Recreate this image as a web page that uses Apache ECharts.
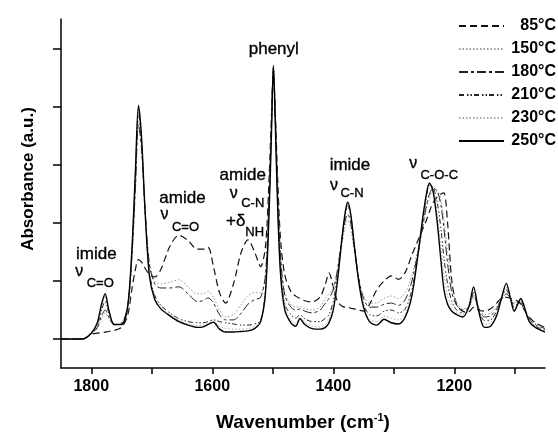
<!DOCTYPE html>
<html>
<head>
<meta charset="utf-8">
<script src="https://cdn.jsdelivr.net/npm/echarts@6/dist/echarts.min.js"></script>
<style>html,body{margin:0;padding:0;background:#fff}#c{width:558px;height:437px}</style>
</head>
<body>
<div id="c"></div>
<script>
const FONT = '"Liberation Sans", Arial, sans-serif';

const wavenumbers = [
 1850,1815,1800,1790,1783,1777,1771,1762,1750,1740,
 1733,1727,1722,1717,1711,1704,1695,1685,1670,1655,
 1640,1625,1615,1607,1598,1588,1578,1565,1552,1541,
 1530,1520,1512,1506,1502,1499,1496,1492,1487,1480,
 1470,1462,1455,1447,1435,1422,1413,1407,1400,1393,
 1386,1380,1376,1371,1365,1358,1350,1340,1328,1316,
 1304,1292,1281,1270,1260,1252,1246,1241,1235,1228,
 1222,1217,1211,1204,1196,1186,1176,1168,1160,1150,
 1140,1130,1122,1114,1107,1101,1095,1090,1084,1076,
 1066,1050];

const temps = ['85°C','150°C','180°C','210°C','230°C','250°C'];

const abs85 = [
 0,0,0.08,0.1,0.11,0.12,0.13,0.15,0.2,0.4,
 0.85,1.2,1.37,1.33,1.22,1.12,1.07,1.2,1.6,1.79,
 1.7,1.55,1.55,1.58,1.25,0.8,0.62,0.95,1.5,1.71,
 1.5,1.25,1.6,2.8,3.9,4.65,4.0,2.8,1.7,1.1,
 0.82,0.74,0.7,0.66,0.64,0.72,0.95,1.14,0.9,0.65,
 0.57,0.55,0.55,0.53,0.52,0.5,0.48,0.6,0.85,1.0,
 1.09,1.03,1.15,1.45,1.7,1.9,2.05,2.2,2.35,2.45,
 2.5,2.52,2.0,1.0,0.6,0.48,0.47,0.55,0.5,0.48,
 0.52,0.62,0.7,0.72,0.7,0.68,0.65,0.6,0.5,0.38,
 0.28,0.2];

const abs150 = [
 0,0,0.09,0.18,0.35,0.45,0.35,0.24,0.27,0.55,
 1.35,2.55,3.75,3.35,2.25,1.35,1.0,0.95,0.98,1.02,
 0.9,0.78,0.78,0.82,0.72,0.5,0.38,0.42,0.6,0.75,
 0.8,0.8,1.15,2.5,3.75,4.68,3.9,2.6,1.45,0.8,
 0.6,0.55,0.56,0.52,0.5,0.55,0.7,0.78,0.88,1.15,
 1.6,1.95,2.05,1.9,1.5,1.05,0.75,0.62,0.62,0.7,
 0.74,0.7,0.8,1.1,1.55,1.95,2.25,2.42,2.55,2.55,
 2.4,2.05,1.5,0.9,0.62,0.52,0.55,0.7,0.55,0.42,
 0.45,0.56,0.7,0.77,0.71,0.63,0.63,0.6,0.5,0.36,
 0.26,0.19];

const abs180 = [
 0,0,0.09,0.2,0.4,0.5,0.38,0.25,0.27,0.55,
 1.4,2.6,3.7,3.3,2.2,1.3,0.95,0.88,0.88,0.9,
 0.78,0.65,0.66,0.71,0.62,0.42,0.33,0.33,0.45,0.6,
 0.68,0.72,1.1,2.5,3.7,4.65,3.9,2.6,1.4,0.75,
 0.55,0.5,0.52,0.48,0.45,0.5,0.62,0.7,0.85,1.2,
 1.7,2.05,2.15,2.0,1.55,1.05,0.7,0.55,0.55,0.6,
 0.62,0.58,0.68,1.0,1.5,1.95,2.3,2.5,2.6,2.55,
 2.3,1.9,1.3,0.8,0.58,0.5,0.55,0.75,0.55,0.38,
 0.4,0.52,0.68,0.78,0.7,0.6,0.63,0.62,0.5,0.35,
 0.25,0.18];

const abs210 = [
 0,0,0.1,0.25,0.5,0.65,0.45,0.25,0.26,0.55,
 1.45,2.8,3.9,3.4,2.2,1.15,0.75,0.58,0.45,0.35,
 0.3,0.28,0.28,0.3,0.33,0.3,0.28,0.26,0.24,0.24,
 0.26,0.32,0.85,2.3,3.7,4.7,3.85,2.4,1.2,0.6,
 0.42,0.36,0.42,0.35,0.3,0.3,0.36,0.42,0.65,1.1,
 1.7,2.15,2.3,2.1,1.6,1.05,0.6,0.42,0.4,0.48,
 0.5,0.45,0.52,0.85,1.45,2.05,2.45,2.65,2.62,2.35,
 1.9,1.4,0.95,0.65,0.5,0.45,0.55,0.8,0.52,0.32,
 0.33,0.48,0.7,0.85,0.68,0.55,0.62,0.66,0.52,0.32,
 0.22,0.16];

const abs230 = [
 0,0,0.1,0.27,0.57,0.74,0.48,0.25,0.25,0.55,
 1.48,2.85,3.95,3.45,2.2,1.12,0.7,0.54,0.42,0.32,
 0.26,0.23,0.24,0.27,0.3,0.22,0.18,0.17,0.17,0.18,
 0.22,0.31,0.82,2.25,3.65,4.7,3.82,2.35,1.15,0.55,
 0.33,0.27,0.38,0.29,0.22,0.21,0.25,0.33,0.55,1.05,
 1.7,2.18,2.33,2.13,1.6,1.02,0.56,0.34,0.3,0.4,
 0.36,0.33,0.44,0.8,1.45,2.08,2.5,2.68,2.6,2.15,
 1.6,1.1,0.75,0.55,0.46,0.42,0.55,0.85,0.5,0.25,
 0.27,0.44,0.7,0.9,0.69,0.5,0.6,0.68,0.54,0.31,
 0.21,0.14];

const abs250 = [
 0,0,0.1,0.28,0.6,0.78,0.5,0.25,0.25,0.55,
 1.5,2.9,4.03,3.5,2.2,1.1,0.68,0.52,0.4,0.3,
 0.24,0.2,0.21,0.25,0.29,0.17,0.12,0.12,0.13,0.14,
 0.18,0.3,0.8,2.2,3.6,4.72,3.8,2.3,1.1,0.5,
 0.28,0.22,0.35,0.25,0.18,0.17,0.2,0.28,0.5,1.0,
 1.7,2.2,2.36,2.15,1.6,1.0,0.55,0.3,0.24,0.34,
 0.28,0.26,0.38,0.75,1.45,2.1,2.5,2.69,2.55,2.0,
 1.35,0.85,0.6,0.48,0.42,0.38,0.55,0.9,0.5,0.2,
 0.22,0.4,0.7,0.96,0.7,0.48,0.6,0.7,0.55,0.3,
 0.2,0.12];

const xTickValues = [1100,1200,1300,1400,1500,1600,1700,1800];
const xLabelValues = [1200,1400,1600,1800];
const yTickValues = [0,1,2,3,4,5];

// band annotations (text, wavenumber, absorbance, kind)
const annoText = ['imide','ν','C=O','amide','ν','C=O','amide','ν','C-N','+δ','NH','phenyl','imide','ν','C-N','ν','C-O-C'];
const annoWn   = [1791.7,1819.9,1785.1,1649.2,1679.0,1644.2,1549.7,1564.6,1533.1,1561.3,1529.8,1498.3,1372.4,1398.9,1369.0,1267.9,1224.8];
const annoAbs  = [1.466,1.155,0.966,2.431,2.138,1.931,2.828,2.517,2.345,2.034,1.845,5.0,3.0,2.655,2.517,3.034,2.828];
const annoKind = ['t','n','s','t','n','s','t','n','s','t','s','t','t','n','s','n','s'];

const styles = [
  {color:'#111', width:1.2, type:[7,4]},
  {color:'#9a9a9a', width:1, type:[1.5,2]},
  {color:'#222', width:1, type:[9,3,3,3]},
  {color:'#222', width:1, type:[5,3,1.5,2,1.5,2]},
  {color:'#aaaaaa', width:1, type:[1.5,2]},
  {color:'#000', width:1.4, type:'solid'}
];
const values = [abs85, abs150, abs180, abs210, abs230, abs250];

const series = temps.map((t, i) => ({
  name: t,
  type: 'line',
  data: wavenumbers.map((w, j) => [w, values[i][j]]),
  symbol: 'none',
  showSymbol: false,
  smooth: 0.3,
  lineStyle: styles[i],
  itemStyle: {color: styles[i].color},
  z: i === 5 ? 5 : 3,
  silent: true,
  animation: false
}));

const annoLabel = {fontFamily: FONT, color: '#000', opacity: 1, textBorderColor: '#000', textBorderWidth: 0.35};
series.push({
  name: 'annotations',
  type: 'scatter',
  data: annoText.map((s, i) => ({value: [annoWn[i], annoAbs[i]], name: s})),
  symbolSize: 1,
  itemStyle: {color: '#fff', opacity: 1},
  silent: true,
  animation: false,
  z: 10,
  label: {
    show: true,
    position: 'inside',
    color: '#000',
    opacity: 1,
    formatter: p => '{' + annoKind[p.dataIndex] + '|' + p.name + '}',
    rich: {
      t: Object.assign({fontSize: 17}, annoLabel),
      n: Object.assign({fontSize: 16}, annoLabel),
      s: Object.assign({fontSize: 13}, annoLabel)
    }
  }
});

const chart = echarts.init(document.getElementById('c'), null, {renderer: 'canvas'});
chart.setOption({
  animation: false,
  backgroundColor: '#fff',
  grid: {left: 61, right: 13, top: 19, bottom: 69, containLabel: false},
  legend: {
    data: temps,
    orient: 'vertical',
    left: 453,
    top: 13,
    itemWidth: 45,
    itemHeight: 10,
    itemGap: 7,
    selectedMode: false,
    itemStyle: {opacity: 0},
    formatter: n => '{t|' + n + '}',
    textStyle: {
      rich: {t: {width: 47, align: 'right', fontSize: 16, fontWeight: 'bold', fontFamily: FONT, color: '#000', lineHeight: 18}}
    }
  },
  xAxis: {
    type: 'value',
    inverse: true,
    min: 1050,
    max: 1850,
    name: 'Wavenumber (cm{sup|-1})',
    nameLocation: 'middle',
    nameGap: 44,
    nameTextStyle: {
      fontSize: 19, fontWeight: 'bold', fontFamily: FONT, color: '#000',
      rich: {sup: {fontSize: 11, fontWeight: 'bold', fontFamily: FONT, color: '#000', padding: [0, 0, 10, 0]}}
    },
    axisLine: {show: true, onZero: false, lineStyle: {color: '#000', width: 1.5}},
    axisTick: {show: true, inside: false, length: 6, customValues: xTickValues, lineStyle: {color: '#000', width: 1.5}},
    axisLabel: {show: true, customValues: xLabelValues, formatter: v => String(v), margin: 11, fontSize: 16, fontWeight: 'bold', fontFamily: FONT, color: '#000'},
    splitLine: {show: false},
    minorTick: {show: false}
  },
  yAxis: {
    type: 'value',
    min: -0.5,
    max: 5.52,
    name: 'Absorbance (a.u.)',
    nameLocation: 'middle',
    nameGap: 24,
    nameRotate: 90,
    nameTextStyle: {fontSize: 17, fontWeight: 'bold', fontFamily: FONT, color: '#000', padding: [0, 0, 0, 29]},
    axisLine: {show: true, onZero: false, lineStyle: {color: '#000', width: 1.5}},
    axisTick: {show: true, inside: false, length: 8, customValues: yTickValues, lineStyle: {color: '#000', width: 1.5}},
    axisLabel: {show: false},
    splitLine: {show: false}
  },
  series: series
});
</script>
</body>
</html>
